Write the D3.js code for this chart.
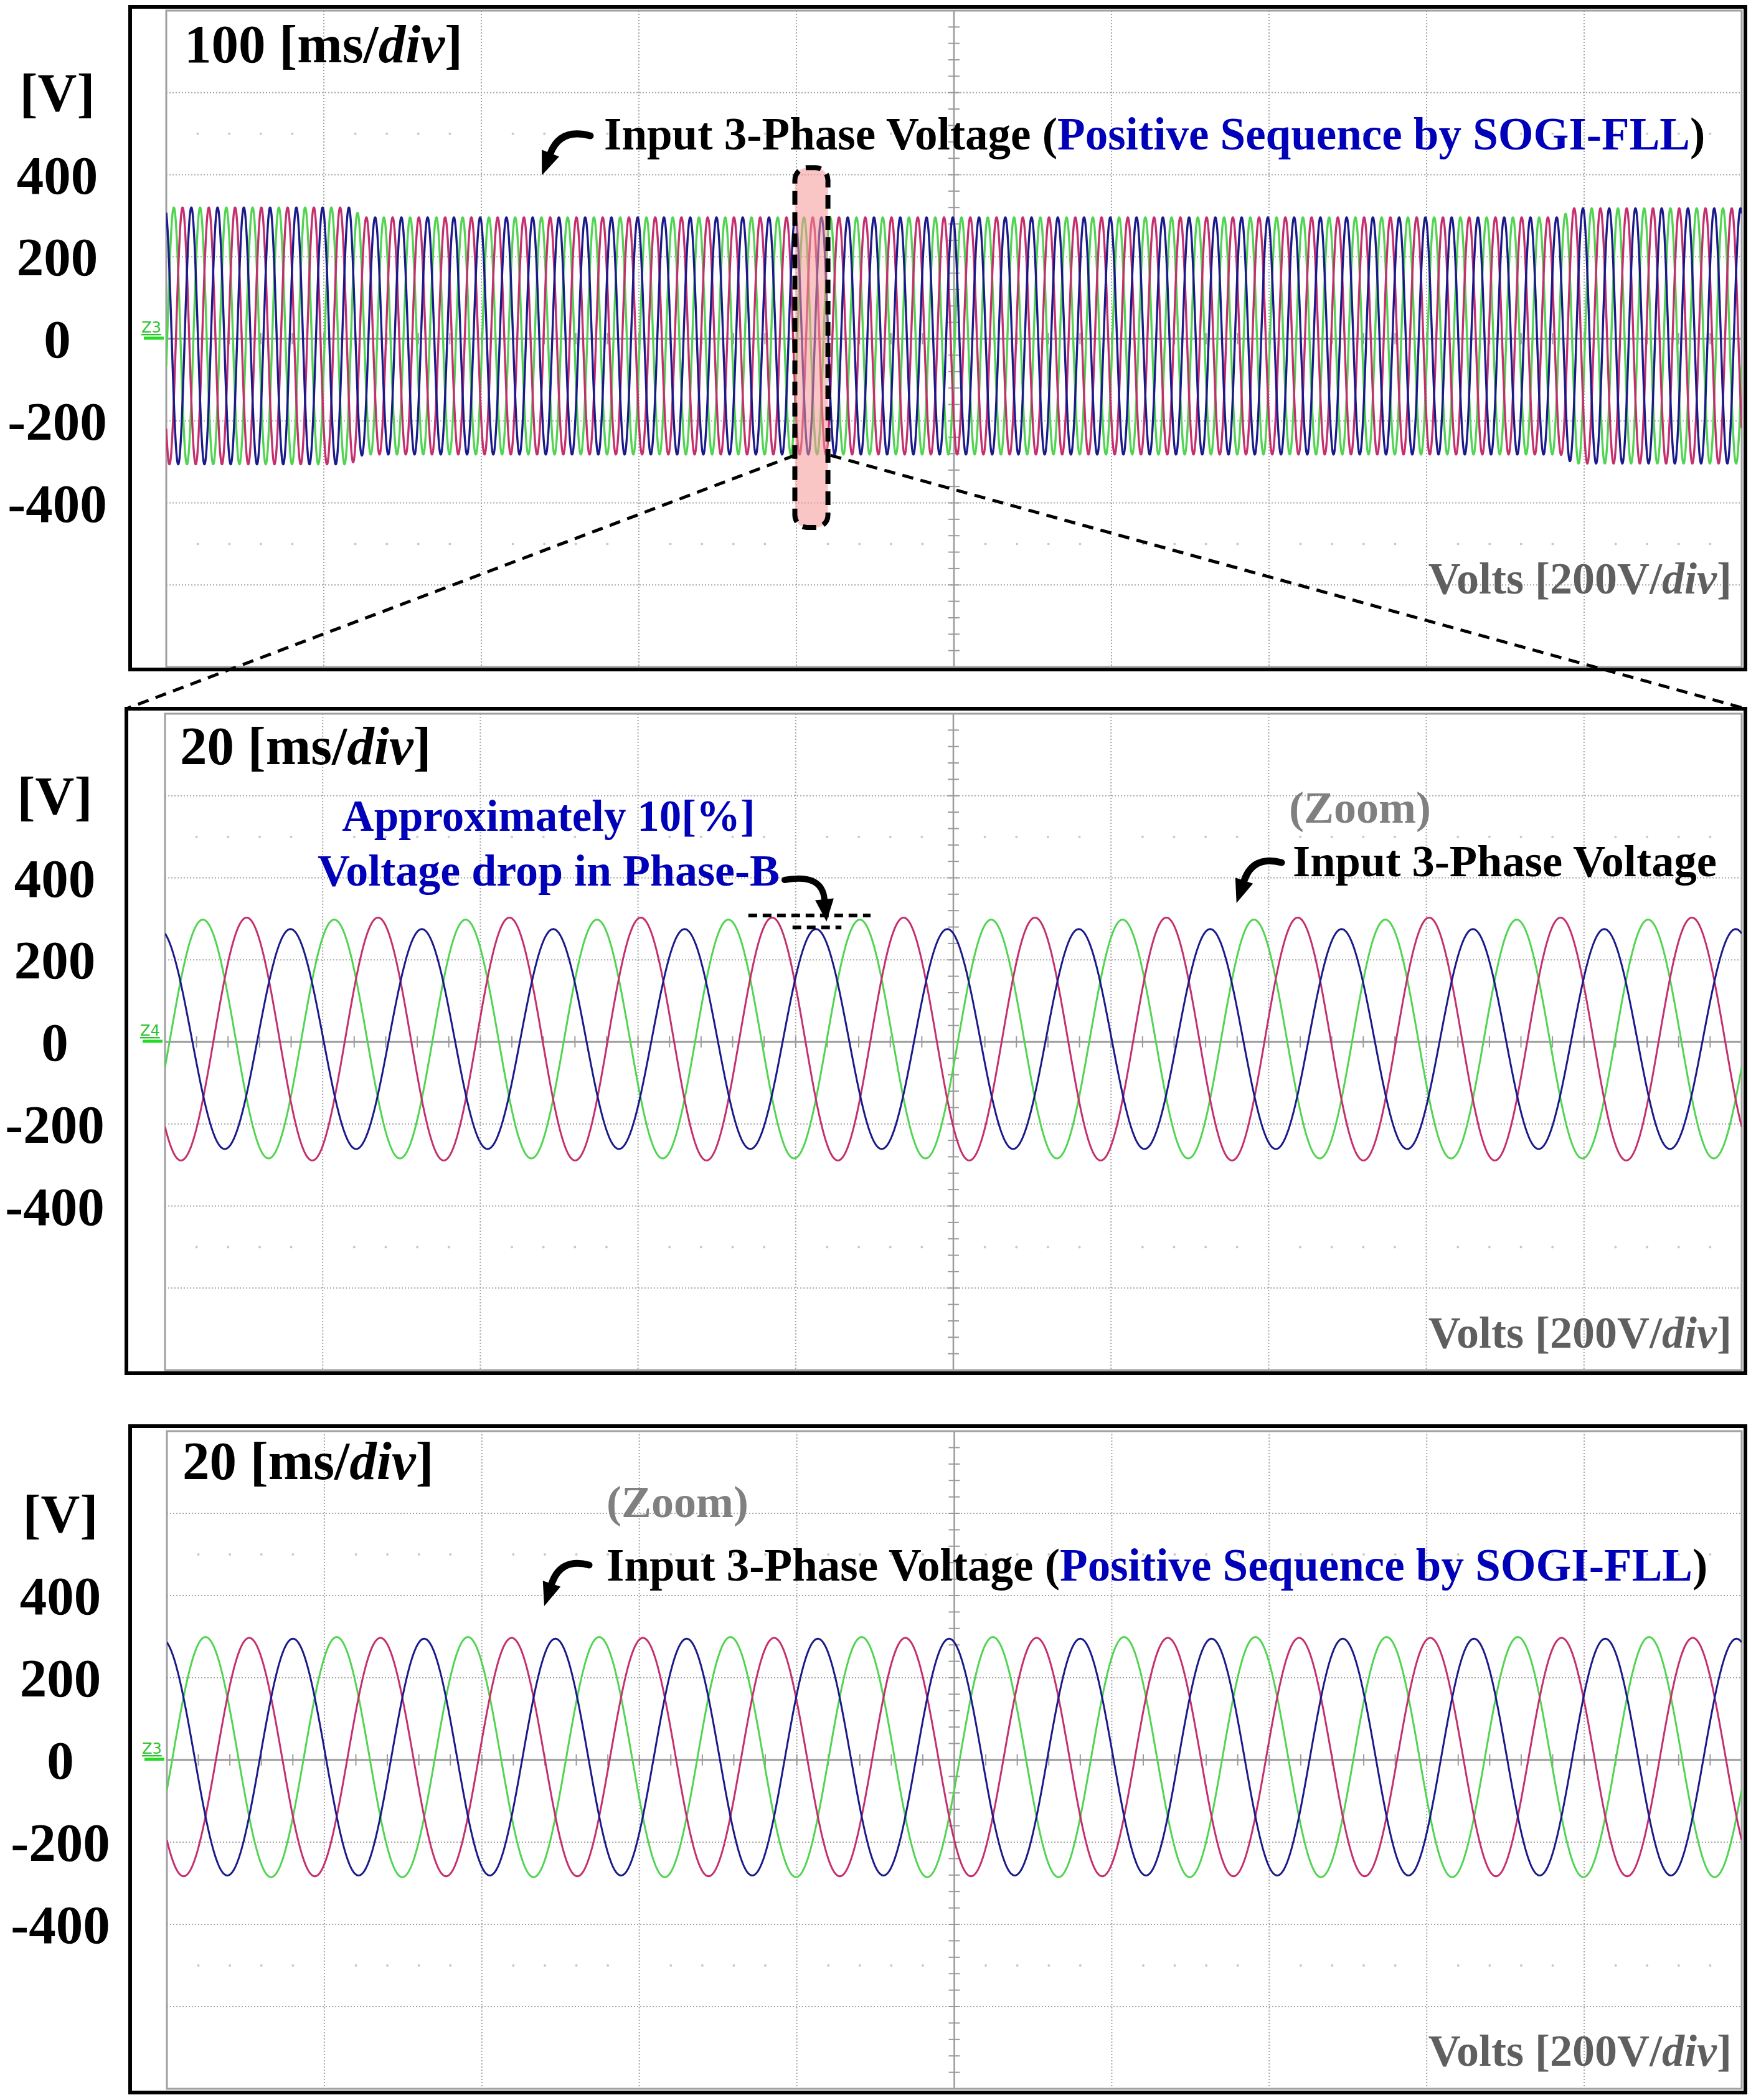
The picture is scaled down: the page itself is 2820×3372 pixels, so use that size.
<!DOCTYPE html>
<html><head><meta charset="utf-8">
<script src="https://cdn.jsdelivr.net/npm/d3@7"></script>
<style>
html,body{margin:0;padding:0;background:#fff;}
svg{display:block;}
</style>
</head><body>
<svg id="c" width="2820" height="3372"></svg>
<script>
// ---------------- DATA ----------------
const phaseKeys = ["green", "pink", "navy"];
const phaseColors = ["#52d452", "#c4306e", "#1a1a8a"];
const phaseLagDeg = [0, 120, 240];
const lineFreqHz = 60;
const voltTicks = [400, 200, 0, -200, -400];
const voltTickLabels = ["400", "200", "0", "-200", "-400"];
const voltUnitAt = 600;
const voltsPerDiv = 200;
const timeDivs = 10;
const voltDivs = 8;
const timePerDivMs = [100, 20, 20];
const titleNumbers = ["100", "20", "20"];
// Panel 1 (100 ms/div): positive-sequence amplitude envelope
const p1EnvTimeMs = [0, 117, 125, 885, 893, 1000];
const p1EnvAmpV = [313, 313, 289, 289, 311, 311];
// Panel 2 (20 ms/div, zoom of input): per-phase peak amplitudes (phase-B drop)
const p2AmpV = [291, 296, 268];
// Panel 3 (20 ms/div, positive sequence by SOGI-FLL)
const p3AmpV = [292, 290, 288];
const dcOffsetV = [7, 7, 7];
const firstGreenPeakMs = [4.8, 4.8, 4.9];
// annotation values
const zoomWindowMs = [399, 420];
const zoomWindowV = [417, -460];
const zoomLinkV = -284;
const dropUpper = {t: [74, 89.5], v: 308};
const dropLower = {t: [79.6, 85.8], v: 279};

// ---------------- LAYOUT ----------------
const FONT = "'Liberation Serif','Times New Roman',serif";
const panels = [
  {box: [209, 11, 2803, 1075], grid: [267, 17, 2797, 1071], labelX: 92, titleXY: [296, 100], voltsY: 953, z: "Z3"},
  {box: [203, 1138, 2803, 2205], grid: [265, 1146, 2797, 2200], labelX: 88, titleXY: [289, 1227], voltsY: 2164, z: "Z4"},
  {box: [209, 2290, 2803, 3360], grid: [268, 2298, 2797, 3354], labelX: 97, titleXY: [293, 2375], voltsY: 3317, z: "Z3"}
];

const svg = d3.select("#c");
svg.append("rect").attr("width", 2820).attr("height", 3372).attr("fill", "#fff");
const defs = svg.append("defs");

panels.forEach((p, pi) => {
  const div = timePerDivMs[pi];
  const [gx0, gy0, gx1, gy1] = p.grid;
  p.x = d3.scaleLinear().domain([0, timeDivs * div]).range([gx0, gx1]);
  p.y = d3.scaleLinear().domain([-voltDivs / 2 * voltsPerDiv, voltDivs / 2 * voltsPerDiv]).range([gy1, gy0]);
  const x = p.x, y = p.y;
  const g = svg.append("g");
  p.g = g;

  // outer box
  g.append("rect").attr("x", p.box[0]).attr("y", p.box[1])
    .attr("width", p.box[2] - p.box[0]).attr("height", p.box[3] - p.box[1])
    .attr("fill", "#fff").attr("stroke", "#000").attr("stroke-width", 6);

  // dotted grid
  const vLines = d3.range(1, timeDivs).filter(i => i !== timeDivs / 2).map(i => i * div);
  const hLines = d3.range(-voltDivs / 2 + 1, voltDivs / 2).filter(i => i !== 0).map(i => i * voltsPerDiv);
  g.selectAll(".vg").data(vLines).join("line")
    .attr("x1", d => x(d)).attr("x2", d => x(d)).attr("y1", gy0).attr("y2", gy1)
    .attr("stroke", "#a6a6a6").attr("stroke-width", 2).attr("stroke-dasharray", "2,3");
  g.selectAll(".hg").data(hLines).join("line")
    .attr("y1", d => y(d)).attr("y2", d => y(d)).attr("x1", gx0).attr("x2", gx1)
    .attr("stroke", "#a6a6a6").attr("stroke-width", 2).attr("stroke-dasharray", "2,3");

  // faint dot rows at +-2.5 div
  const dotT = d3.range(1, timeDivs * 5).filter(i => i % 5 !== 0).map(i => i * div / 5);
  [500, -500].forEach(v => {
    g.selectAll(null).data(dotT).join("circle")
      .attr("cx", d => x(d)).attr("cy", y(v)).attr("r", 2).attr("fill", "#c8c8c8");
  });

  // center lines with minor ticks
  const xc = x(timeDivs / 2 * div), y0 = y(0);
  g.append("line").attr("x1", xc).attr("x2", xc).attr("y1", gy0).attr("y2", gy1)
    .attr("stroke", "#9a9a9a").attr("stroke-width", 2.5);
  g.append("line").attr("x1", gx0).attr("x2", gx1).attr("y1", y0).attr("y2", y0)
    .attr("stroke", "#9a9a9a").attr("stroke-width", 3);
  const tickT = d3.range(1, timeDivs * 5).map(i => i * div / 5);
  g.selectAll(".tt").data(tickT).join("line")
    .attr("x1", d => x(d)).attr("x2", d => x(d)).attr("y1", y0 - 9).attr("y2", y0 + 9)
    .attr("stroke", "#9a9a9a").attr("stroke-width", 2);
  const tickV = d3.range(-voltDivs / 2 * 5 + 1, voltDivs / 2 * 5).map(i => i * voltsPerDiv / 5);
  g.selectAll(".tv").data(tickV).join("line")
    .attr("y1", d => y(d)).attr("y2", d => y(d)).attr("x1", xc - 9).attr("x2", xc + 9)
    .attr("stroke", "#9a9a9a").attr("stroke-width", 2);

  // grid border
  g.append("rect").attr("x", gx0).attr("y", gy0).attr("width", gx1 - gx0).attr("height", gy1 - gy0)
    .attr("fill", "none").attr("stroke", "#a0a0a0").attr("stroke-width", 3);

  // ground marker
  g.append("text").attr("x", gx0 - 40).attr("y", y0 - 10).text(p.z)
    .attr("font-family", "'DejaVu Sans',sans-serif").attr("font-size", 24).attr("fill", "#2ec02e")
    .attr("text-decoration", "underline");
  g.append("line").attr("x1", gx0 - 36).attr("x2", gx0 - 4).attr("y1", y0 - 1).attr("y2", y0 - 1)
    .attr("stroke", "#22dd22").attr("stroke-width", 5);

  // clip
  defs.append("clipPath").attr("id", "clip" + pi).append("rect")
    .attr("x", gx0).attr("y", gy0).attr("width", gx1 - gx0).attr("height", gy1 - gy0);

  // waveforms
  const tMax = timeDivs * div;
  const T = 1000 / lineFreqHz;
  const n = pi === 0 ? 8000 : 2400;
  const envelope = d3.scaleLinear().domain(p1EnvTimeMs).range(p1EnvAmpV);
  const ampFor = (k, t) => pi === 0 ? envelope(t) : (pi === 1 ? p2AmpV[k] : p3AmpV[k]);
  const line = d3.line().x(d => x(d[0])).y(d => y(d[1]));
  const wg = g.append("g").attr("clip-path", "url(#clip" + pi + ")");
  phaseKeys.forEach((key, k) => {
    const pts = d3.range(n + 1).map(i => {
      const t = tMax * i / n;
      const v = dcOffsetV[pi] + ampFor(k, t) *
        Math.cos(2 * Math.PI * (t - firstGreenPeakMs[pi]) / T - phaseLagDeg[k] * Math.PI / 180);
      return [t, v];
    });
    wg.append("path").datum(pts).attr("d", line).attr("fill", "none")
      .attr("stroke", phaseColors[k]).attr("stroke-width", pi === 0 ? 3.4 : 3)
      .attr("stroke-linejoin", "round");
  });

  // y axis labels
  const ax = svg.append("g").attr("transform", `translate(${p.labelX},0)`)
    .call(d3.axisLeft(y).tickValues(voltTicks).tickFormat((d, i) => voltTickLabels[i]).tickSize(0));
  ax.select(".domain").remove();
  ax.attr("font-family", FONT).attr("font-size", 87).attr("font-weight", "bold");
  ax.selectAll("text").attr("x", 0).attr("dy", "0.34em").attr("text-anchor", "middle").attr("fill", "#000");
  svg.append("text").attr("x", p.labelX).attr("y", y(voltUnitAt)).attr("dy", "0.34em")
    .attr("text-anchor", "middle").attr("font-family", FONT).attr("font-size", 87)
    .attr("font-weight", "bold").text("[V]");

  // title
  const tt = svg.append("text").attr("x", p.titleXY[0]).attr("y", p.titleXY[1])
    .attr("font-family", FONT).attr("font-size", 87).attr("font-weight", "bold");
  tt.append("tspan").text(titleNumbers[pi] + " [ms/");
  tt.append("tspan").attr("font-style", "italic").text("div");
  tt.append("tspan").text("]");

  // volts label
  const vt = svg.append("text").attr("x", 2781).attr("y", p.voltsY).attr("text-anchor", "end")
    .attr("font-family", FONT).attr("font-size", 72).attr("font-weight", "bold").attr("fill", "#5f5f5f");
  vt.append("tspan").text("Volts [200V/");
  vt.append("tspan").attr("font-style", "italic").text("div");
  vt.append("tspan").text("]");
});

// ---------------- ANNOTATIONS ----------------
function arrow(p0, c, p1, headLen, headW, sw) {
  const dx = p1[0] - c[0], dy = p1[1] - c[1];
  const L = Math.hypot(dx, dy), ux = dx / L, uy = dy / L;
  svg.append("path").attr("d", `M${p0[0]},${p0[1]}Q${c[0]},${c[1]} ${p1[0]},${p1[1]}`)
    .attr("fill", "none").attr("stroke", "#000").attr("stroke-width", sw).attr("stroke-linecap", "round");
  const tip = [p1[0] + ux * headLen, p1[1] + uy * headLen];
  const b1 = [p1[0] - uy * headW / 2, p1[1] + ux * headW / 2];
  const b2 = [p1[0] + uy * headW / 2, p1[1] - ux * headW / 2];
  svg.append("path").attr("d", `M${tip}L${b1}L${b2}Z`).attr("fill", "#000");
}
function label(x, y, parts, size, anchor) {
  const t = svg.append("text").attr("x", x).attr("y", y).attr("font-family", FONT)
    .attr("font-size", size).attr("font-weight", "bold").attr("text-anchor", anchor || "start");
  parts.forEach(pt => t.append("tspan").attr("fill", pt[1]).text(pt[0]));
  return t;
}
const BLUE = "#0000b8", GRAY = "#808080";

// Panel 1
label(970, 240, [["Input 3-Phase Voltage (", "#000"], ["Positive Sequence by SOGI-FLL", BLUE], [")", "#000"]], 73);
arrow([948, 218], [900, 205], [884, 246], 38, 30, 11);

// zoom window on panel 1 + link lines to panel 2
const P1 = panels[0], P2 = panels[1];
const zx0 = P1.x(zoomWindowMs[0]), zx1 = P1.x(zoomWindowMs[1]);
const zy0 = P1.y(zoomWindowV[0]), zy1 = P1.y(zoomWindowV[1]);
svg.append("rect").attr("x", zx0).attr("y", zy0).attr("width", zx1 - zx0).attr("height", zy1 - zy0)
  .attr("rx", 20).attr("fill", "rgb(245,150,150)").attr("fill-opacity", 0.55)
  .attr("stroke", "#000").attr("stroke-width", 8).attr("stroke-dasharray", "22,12");
const ly = P1.y(zoomLinkV);
svg.append("line").attr("x1", zx0).attr("y1", ly).attr("x2", P2.box[0]).attr("y2", P2.box[1])
  .attr("stroke", "#000").attr("stroke-width", 5).attr("stroke-dasharray", "18,12");
svg.append("line").attr("x1", zx1 + 4).attr("y1", ly).attr("x2", P2.box[2]).attr("y2", P2.box[1])
  .attr("stroke", "#000").attr("stroke-width", 5).attr("stroke-dasharray", "18,12");

// Panel 2
label(881, 1334, [["Approximately 10[%]", BLUE]], 71, "middle");
label(881, 1422, [["Voltage drop in Phase-B", BLUE]], 72, "middle");
arrow([1260, 1413], [1320, 1402], [1324, 1444], 36, 30, 10);
svg.append("line").attr("x1", P2.x(dropUpper.t[0])).attr("x2", P2.x(dropUpper.t[1]))
  .attr("y1", P2.y(dropUpper.v)).attr("y2", P2.y(dropUpper.v))
  .attr("stroke", "#000").attr("stroke-width", 6).attr("stroke-dasharray", "14,9");
svg.append("line").attr("x1", P2.x(dropLower.t[0])).attr("x2", P2.x(dropLower.t[1]))
  .attr("y1", P2.y(dropLower.v)).attr("y2", P2.y(dropLower.v))
  .attr("stroke", "#000").attr("stroke-width", 6).attr("stroke-dasharray", "14,9");
label(2070, 1321, [["(Zoom)", GRAY]], 72);
label(2076, 1407, [["Input 3-Phase Voltage", "#000"]], 72.5);
arrow([2058, 1385], [2012, 1373], [1998, 1414], 38, 30, 11);

// Panel 3
label(974, 2436, [["(Zoom)", GRAY]], 72);
label(974, 2538, [["Input 3-Phase Voltage (", "#000"], ["Positive Sequence by SOGI-FLL", BLUE], [")", "#000"]], 73);
arrow([946, 2513], [900, 2501], [886, 2543], 38, 30, 11);
</script>
</body></html>
